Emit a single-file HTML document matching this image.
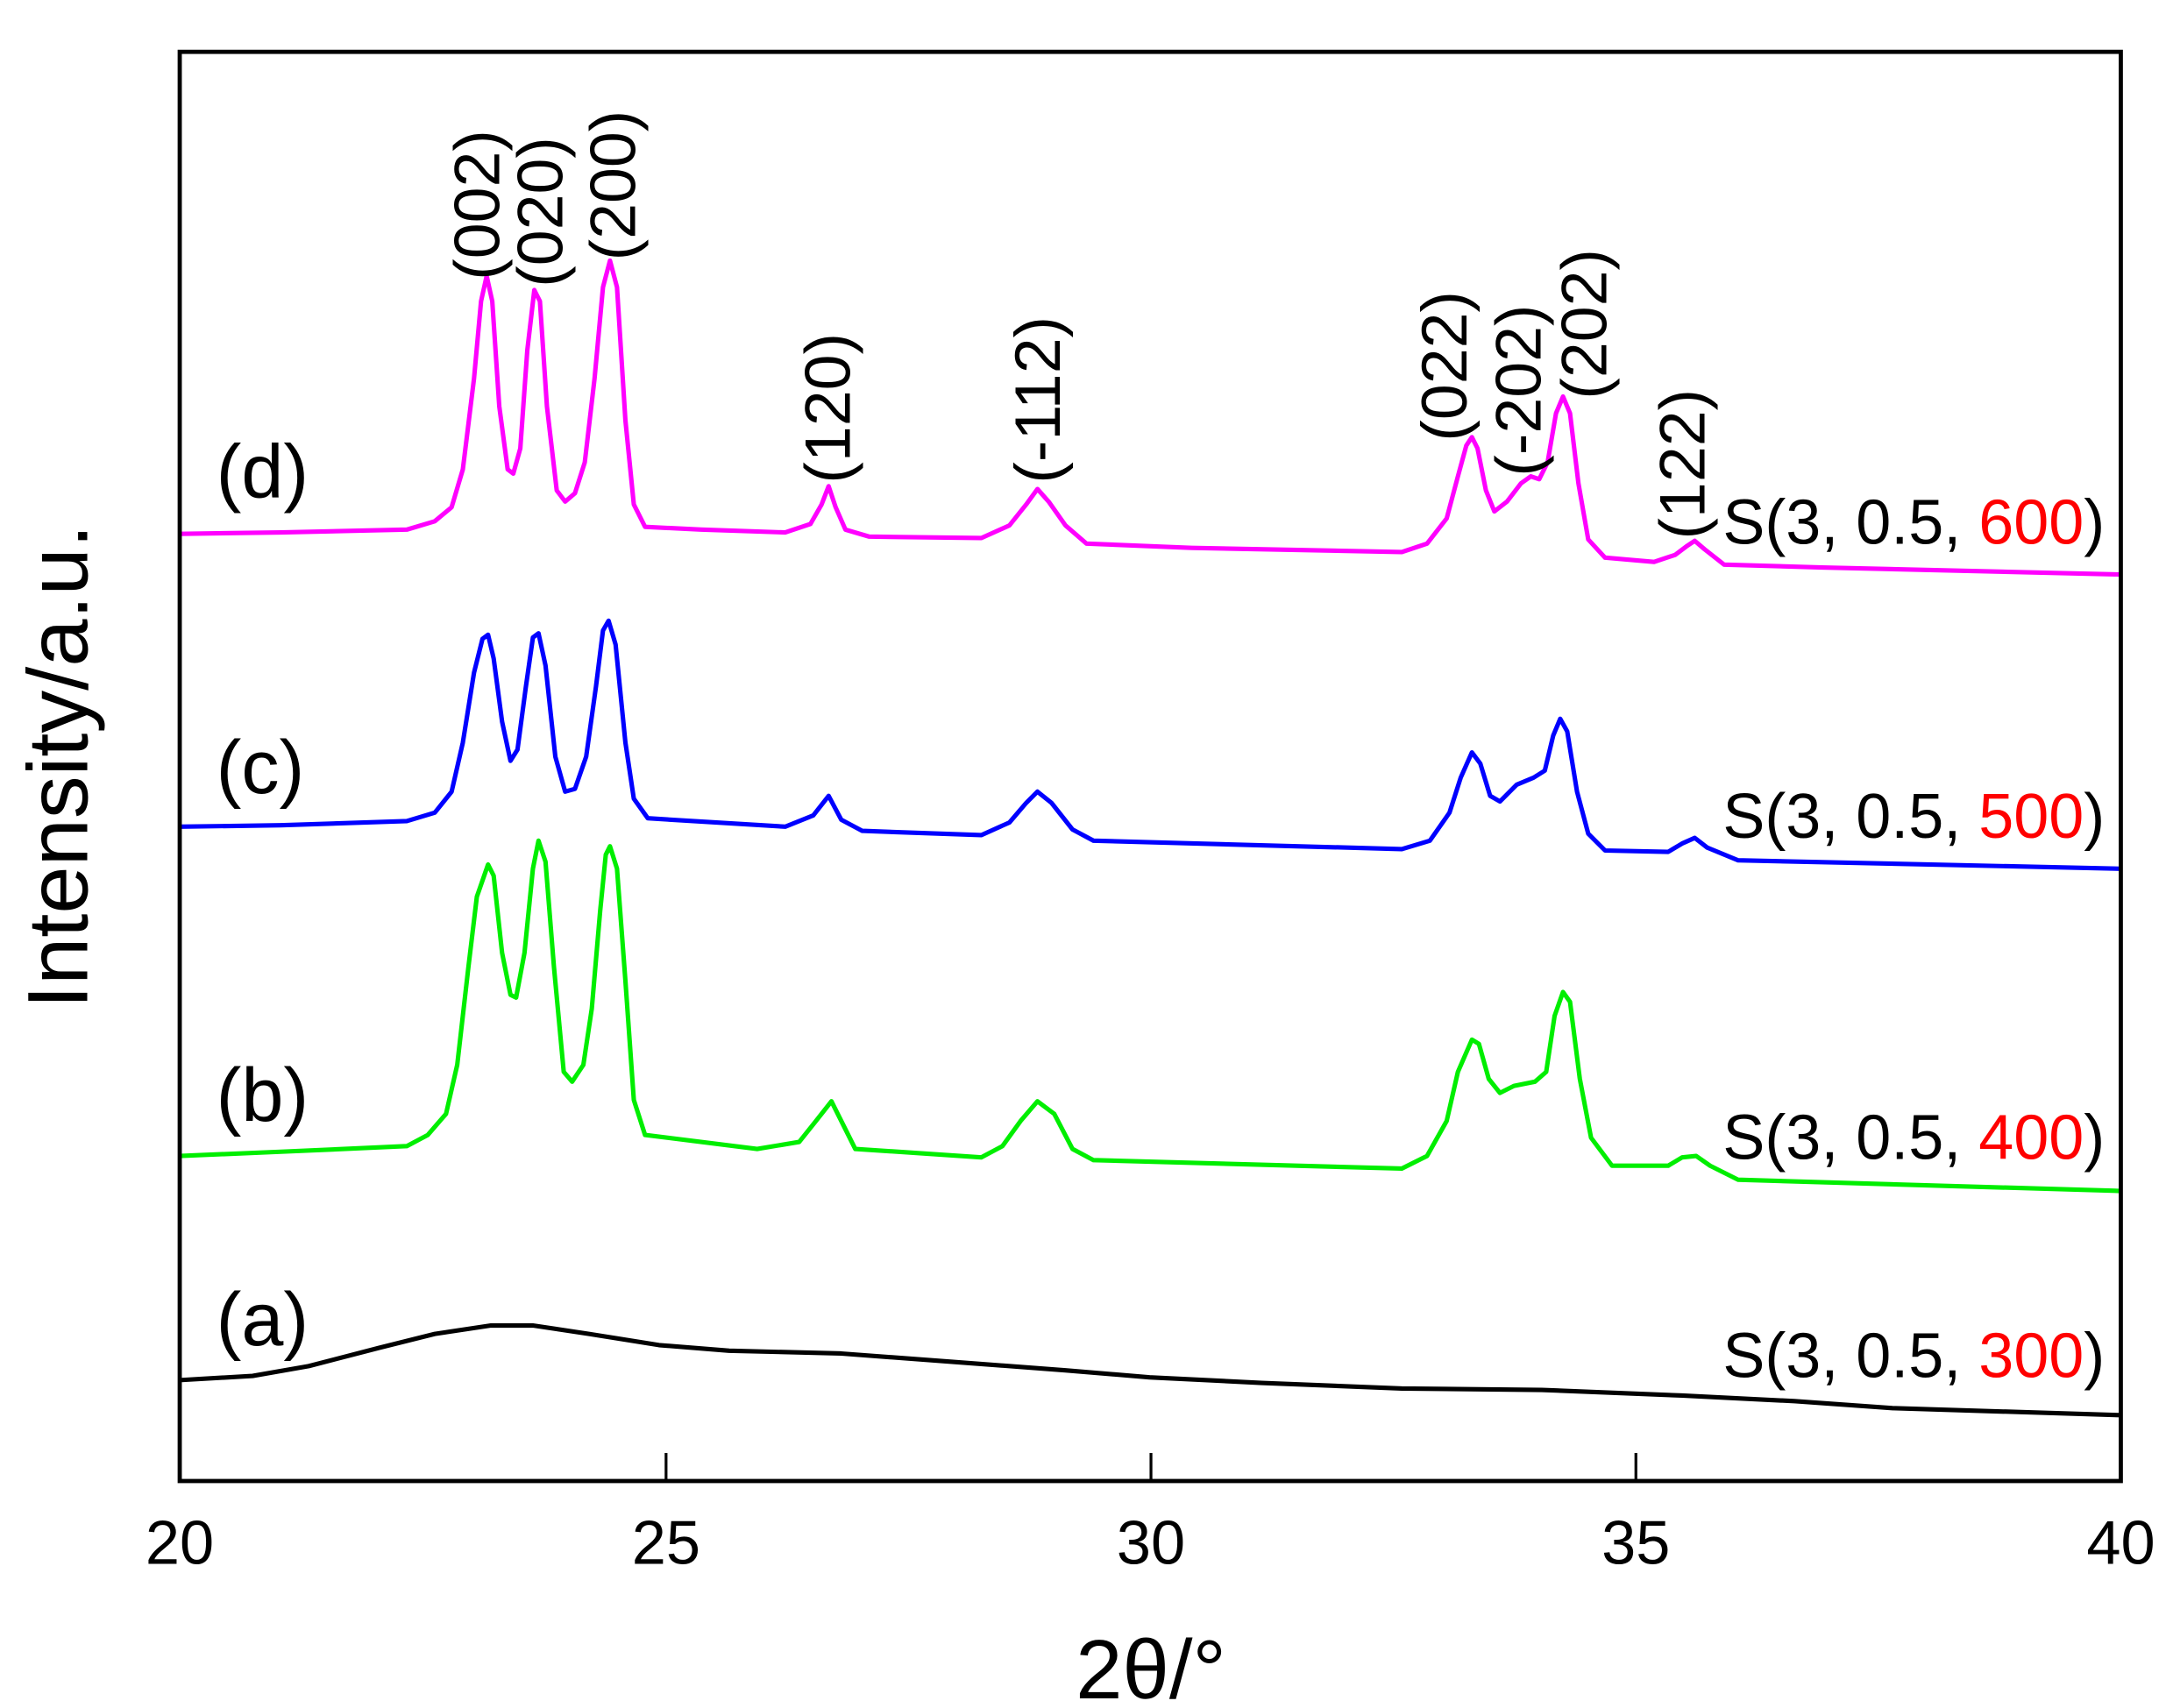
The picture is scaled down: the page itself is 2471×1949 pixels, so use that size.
<!DOCTYPE html>
<html><head><meta charset="utf-8"><style>html,body{margin:0;padding:0;background:#fff}svg{display:block}</style></head>
<body>
<svg width="2471" height="1949" viewBox="0 0 1545 1219" xmlns="http://www.w3.org/2000/svg" font-family="Liberation Sans, Arial, sans-serif">
<rect width="1545" height="1219" fill="#fff"/>
<g fill="none" stroke-width="3.2" stroke-linejoin="round">
<path stroke="#ff00ff" d="M128 381 L200 380 L290 378 L310 372 L322 362 L330 335 L338 270 L343 215 L347 197 L351 215 L356 290 L362 335 L366 338 L371 320 L376 250 L381 207 L385 215 L390 290 L397 350 L403 358 L410 352 L417 330 L424 270 L430 205 L435 186 L440 205 L446 300 L452 360 L460 376 L500 378 L560 380 L578 374 L586 360 L591 347 L596 362 L603 378 L620 383 L700 384 L720 375 L732 360 L740 349 L748 358 L760 375 L775 388 L850 391 L1000 394 L1018 388 L1032 370 L1040 340 L1046 318 L1050 312 L1054 320 L1060 350 L1066 365 L1075 358 L1085 345 L1092 340 L1098 342 L1104 330 L1110 295 L1115 283 L1120 295 L1126 345 L1133 385 L1145 398 L1180 401 L1195 396 L1203 390 L1209 386 L1216 392 L1230 403 L1300 405 L1513 410"/>
<path stroke="#0000ff" d="M128 590 L200 589 L290 586 L310 580 L322 565 L330 530 L338 480 L344 456 L348 453 L352 470 L358 515 L364 543 L369 535 L375 490 L380 455 L384 452 L389 475 L396 540 L403 565 L410 563 L418 540 L425 490 L430 450 L434 443 L439 460 L446 530 L452 570 L462 584 L560 590 L580 582 L591 568 L600 585 L615 593 L700 596 L720 587 L732 573 L740 565 L750 573 L765 592 L780 600 L1000 606 L1020 600 L1034 580 L1042 555 L1050 537 L1056 545 L1063 568 L1070 572 L1082 560 L1094 555 L1102 550 L1108 525 L1113 513 L1118 522 L1125 565 L1133 595 L1145 607 L1190 608 L1200 602 L1209 598 L1218 605 L1240 614 L1513 620"/>
<path stroke="#00ee00" d="M128 825 L200 822 L290 818 L305 810 L318 795 L326 760 L334 690 L340 640 L348 617 L352 625 L358 680 L364 710 L368 712 L374 680 L380 620 L384 600 L389 615 L395 690 L402 765 L408 772 L416 760 L422 720 L428 650 L432 610 L435 604 L440 620 L446 700 L452 785 L460 810 L540 820 L570 815 L582 800 L593 786 L600 800 L610 820 L700 826 L715 818 L728 800 L740 786 L752 795 L765 820 L780 828 L1000 834 L1018 825 L1032 800 L1040 765 L1050 742 L1055 745 L1062 770 L1070 780 L1080 775 L1095 772 L1103 765 L1109 725 L1115 708 L1120 715 L1127 770 L1135 812 L1150 832 L1190 832 L1200 826 L1210 825 L1220 832 L1240 842 L1513 850"/>
<path stroke="#000" d="M128 985 L180 982 L220 975 L270 962 L310 952 L350 946 L380 946 L420 952 L470 960 L520 964 L600 966 L680 972 L760 978 L820 983 L900 987 L1000 991 L1100 992 L1200 996 L1280 1000 L1350 1005 L1513 1010"/>
</g>
<rect x="128" y="37" width="1385" height="1020" fill="none" stroke="#000" stroke-width="3"/>
<g stroke="#000" stroke-width="2">
<line x1="475" y1="1057" x2="475" y2="1037"/>
<line x1="821" y1="1057" x2="821" y2="1037"/>
<line x1="1167" y1="1057" x2="1167" y2="1037"/>
</g>
<g font-size="44" text-anchor="middle" fill="#000">
<text x="128" y="1116">20</text><text x="475" y="1116">25</text><text x="821" y="1116">30</text><text x="1167" y="1116">35</text><text x="1513" y="1116">40</text>
</g>
<text x="821" y="1212" font-size="60" text-anchor="middle">2θ/°</text>
<text transform="translate(62,547) rotate(-90)" font-size="61" text-anchor="middle">Intensity/a.u.</text>
<g font-size="54">
<text x="154" y="355">(d)</text><text x="154" y="566">(c)</text><text x="154" y="800">(b)</text><text x="154" y="960">(a)</text>
</g>
<g font-size="45">
<text x="1229" y="388">S(3, 0.5, <tspan fill="#f00">600</tspan>)</text>
<text x="1229" y="598">S(3, 0.5, <tspan fill="#f00">500</tspan>)</text>
<text x="1229" y="827">S(3, 0.5, <tspan fill="#f00">400</tspan>)</text>
<text x="1229" y="983">S(3, 0.5, <tspan fill="#f00">300</tspan>)</text>
</g>
<g font-size="46">
<text transform="translate(356,200) rotate(-90)">(002)</text>
<text transform="translate(401,205) rotate(-90)">(020)</text>
<text transform="translate(453,186) rotate(-90)">(200)</text>
<text transform="translate(606,345) rotate(-90)">(120)</text>
<text transform="translate(756,345) rotate(-90)">(-112)</text>
<text transform="translate(1046,315) rotate(-90)">(022)</text>
<text transform="translate(1099,340) rotate(-90)">(-202)</text>
<text transform="translate(1146,285) rotate(-90)">(202)</text>
<text transform="translate(1216,385) rotate(-90)">(122)</text>
</g>
</svg>
</body></html>
